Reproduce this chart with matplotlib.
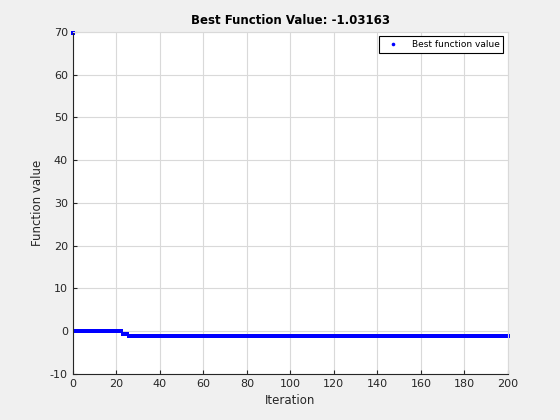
import matplotlib.pyplot as plt
import numpy as np

plt.rcParams['axes.unicode_minus'] = False

# best value held over runs of iterations
step_values = [69.8, -0.05, -0.65, -1.03163]
step_counts = [1, 22, 3, 175]

best = np.repeat(step_values, step_counts)
iters = np.arange(len(best))

fig = plt.figure(figsize=(5.6, 4.2), dpi=100, facecolor='#f0f0f0')
ax = fig.add_axes([0.130, 0.1095, 0.777, 0.8145])
ax.set_facecolor('white')

ax.plot(iters, best, 's', color='b', markersize=2.9, markeredgewidth=0,
        label='Best function value', clip_on=False)

ax.set_xlim(0, 200)
ax.set_ylim(-10, 70)
ax.set_xticks(np.arange(0, 201, 20))
ax.set_yticks(np.arange(-10, 71, 10))
ax.grid(True, color='#d9d9d9', linewidth=0.8)
ax.set_axisbelow(True)
ax.tick_params(direction='in', labelsize=8, colors='#262626', length=3)
for s in ['left', 'bottom']:
    ax.spines[s].set_color('#262626')
for s in ['top', 'right']:
    ax.spines[s].set_color('#d9d9d9')

ax.set_title('Best Function Value: -1.03163', fontsize=8.5, fontweight='bold')
ax.set_xlabel('Iteration', fontsize=8.5, color='#262626')
ax.set_ylabel('Function value', fontsize=8.5, color='#262626')

leg = ax.legend(loc='upper right', fontsize=6.5, fancybox=False, framealpha=1,
                edgecolor='black', handlelength=2.5, borderpad=0.4)
leg.get_frame().set_linewidth(0.8)
h = leg.legend_handles[0]
h.set_marker('o')
h.set_markersize(2.6)

fig.savefig('out.png', dpi=100, facecolor=fig.get_facecolor())
